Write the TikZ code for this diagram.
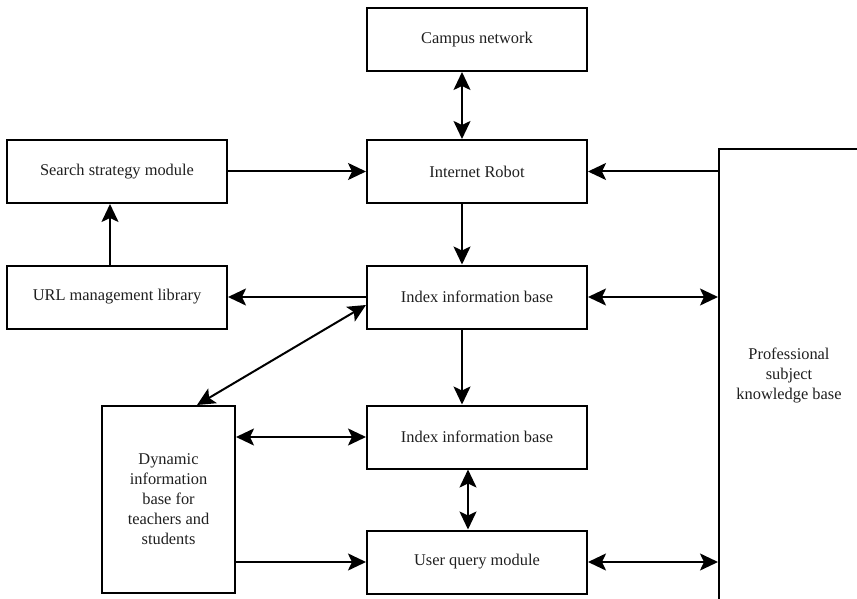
\documentclass[tikz,border=0pt]{standalone}
\usepackage{fontspec}
\setmainfont{Liberation Serif}
\usetikzlibrary{arrows.meta}
\begin{document}
\begin{tikzpicture}[x=1pt,y=-1pt,
  box/.style={draw, line width=2pt, rectangle, inner sep=0pt, align=center,
    font=\fontsize{16.4}{20}\selectfont, text=black!88},
  wide/.style={box, minimum width=220pt, minimum height=63pt},
  tip/.tip={Stealth[length=18pt,width=17pt,inset=4pt]},
  link/.style={line width=2pt, -tip},
  dlink/.style={line width=2pt, tip-tip}]
\useasboundingbox (0,0) rectangle (857,599);
\clip (0,0) rectangle (857,599);

% module boxes
\node[wide] (campus) at (477,39.5) {Campus network};
\node[wide] (robot)  at (477,171.5) {Internet Robot};
\node[wide] (search) at (117,171.5) {Search strategy module};
\node[wide] (url)    at (117,297) {URL management library};
\node[wide] (index1) at (477,297) {Index information base};
\node[wide] (index2) at (477,437) {Index information base};
\node[wide] (query)  at (477,562) {User query module};
\node[box, minimum width=133pt, minimum height=187pt] (dyn) at (168.5,499.5)
  {Dynamic\\information\\base for\\teachers and\\students};
\node[box, minimum width=140pt, minimum height=452pt] (prof) at (789,375)
  {Professional\\subject\\knowledge base};

% connectors
\draw[dlink] ([xshift=-15pt]campus.south) -- ([xshift=-15pt]robot.north);
\draw[link] (search.east) -- (robot.west);
\draw[link] (prof.west |- robot.east) -- (robot.east);
\draw[link] ([xshift=-15pt]robot.south) -- ([xshift=-15pt]index1.north);
\draw[link] (index1.west) -- (url.east);
\draw[link] ([xshift=-7pt]url.north) -- ([xshift=-7pt]search.south);
\draw[dlink] (index1.east) -- (prof.west |- index1.east);
\draw[dlink] ([xshift=28.5pt]dyn.north) -- ([yshift=-8pt]index1.west);
\draw[link] ([xshift=-15pt]index1.south) -- ([xshift=-15pt]index2.north);
\draw[dlink] (dyn.east |- index2.west) -- (index2.west);
\draw[dlink] ([xshift=-9pt]index2.south) -- ([xshift=-9pt]query.north);
\draw[link] (dyn.east |- query.west) -- (query.west);
\draw[dlink] (query.east) -- (prof.west |- query.east);
\end{tikzpicture}
\end{document}
